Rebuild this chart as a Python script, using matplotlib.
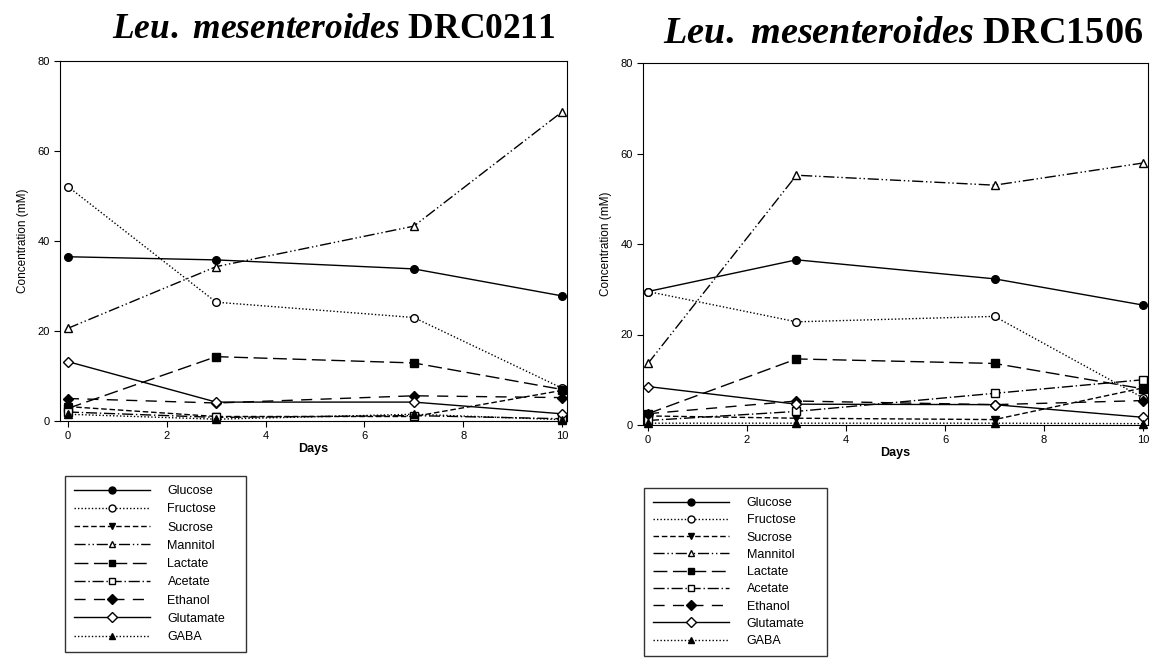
import numpy as np
import matplotlib.pyplot as plt
from matplotlib.lines import Line2D

plt.rcParams['font.family'] = ['Liberation Sans', 'DejaVu Sans']
plt.rcParams['mathtext.fontset'] = 'custom'
plt.rcParams['mathtext.it'] = 'Liberation Serif:italic:bold'
plt.rcParams['mathtext.rm'] = 'Liberation Serif:bold'

days = [0, 3, 7, 10]
names = ['Glucose', 'Fructose', 'Sucrose', 'Mannitol', 'Lactate',
         'Acetate', 'Ethanol', 'Glutamate', 'GABA']

# DRC0211
drc0211 = {
    'Glucose':   [36.5, 35.8, 33.8, 27.8],
    'Fructose':  [52.1, 26.4, 23.0, 7.3],
    'Sucrose':   [3.2, 1.0, 1.0, 6.8],
    'Mannitol':  [20.6, 34.3, 43.3, 68.7],
    'Lactate':   [2.8, 14.3, 12.9, 7.0],
    'Acetate':   [2.0, 0.8, 1.2, 0.5],
    'Ethanol':   [5.0, 4.0, 5.6, 5.2],
    'Glutamate': [13.2, 4.2, 4.2, 1.6],
    'GABA':      [1.5, 0.4, 1.5, 0.3],
}
# DRC1506
drc1506 = {
    'Glucose':   [29.5, 36.5, 32.3, 26.5],
    'Fructose':  [29.5, 22.8, 24.0, 6.0],
    'Sucrose':   [2.0, 1.5, 1.2, 8.2],
    'Mannitol':  [13.6, 55.2, 53.0, 57.9],
    'Lactate':   [2.5, 14.6, 13.6, 8.0],
    'Acetate':   [1.0, 3.0, 7.0, 10.0],
    'Ethanol':   [2.5, 5.3, 4.5, 5.4],
    'Glutamate': [8.5, 4.6, 4.5, 1.7],
    'GABA':      [0.4, 0.4, 0.4, 0.3],
}

styles = {
    'Glucose':   dict(ls='-', marker='o', mfc='black'),
    'Fructose':  dict(ls=(0, (1, 1.5)), marker='o', mfc='white'),
    'Sucrose':   dict(ls=(0, (4, 2)), marker='v', mfc='black'),
    'Mannitol':  dict(ls=(0, (8, 2, 1, 2, 1, 2)), marker='^', mfc='white'),
    'Lactate':   dict(ls=(0, (10, 4)), marker='s', mfc='black'),
    'Acetate':   dict(ls=(0, (8, 2, 1, 2)), marker='s', mfc='white'),
    'Ethanol':   dict(ls=(0, (8, 6)), marker='D', mfc='black'),
    'Glutamate': dict(ls='-', marker='D', mfc='white'),
    'GABA':      dict(ls=(0, (1, 1.5)), marker='^', mfc='black'),
}

W, H = 1159, 665
fig = plt.figure(figsize=(W / 100, H / 100), dpi=100)

panels = [
    # data, strain, axes rect, xmin, title (x, baseline y, size),
    # legend (left, top, right, row spacing)
    (drc0211, 'DRC0211', [60 / W, 1 - 421 / H, 507 / W, 360 / H], -0.16,
     (334, 38, 25.5), (65, 477, 246, 0.5)),
    (drc1506, 'DRC1506', [643 / W, 1 - 425 / H, 505 / W, 362 / H], -0.10,
     (903, 43, 27.5), (644, 489, 827, 0.42)),
]

for data, strain, rect, xmin, tpos, lpos in panels:
    ax = fig.add_axes(rect)
    for n in names:
        st = styles[n]
        ax.plot(days, data[n], color='black', lw=1.0, ls=st['ls'],
                marker=st['marker'], mfc=st['mfc'], mec='black', ms=5.5,
                clip_on=False, zorder=3)
    ax.set_xlim(xmin, 10.1)
    ax.set_ylim(0, 80)
    ax.set_xticks([0, 2, 4, 6, 8, 10])
    ax.set_yticks([0, 20, 40, 60, 80])
    ax.tick_params(direction='out', length=4, labelsize=8, colors='black')
    ax.set_xlabel('Days', fontsize=9, fontweight='bold', labelpad=1)
    ax.set_ylabel('Concentration (mM)', fontsize=8.5, labelpad=6)

    fig.text(tpos[0] / W, 1 - tpos[1] / H,
             r'$\mathit{Leu.\ mesenteroides}$ ' + strain,
             fontsize=tpos[2], family='Liberation Serif', fontweight='bold',
             ha='center', va='baseline')

    handles = []
    for n in names:
        st = styles[n]
        handles.append(Line2D([], [], color='black', lw=1.0, ls=st['ls'],
                              marker=st['marker'], mfc=st['mfc'],
                              mec='black', ms=5))
    x0, y0, x1, sp = lpos
    leg = fig.legend(handles, names, loc='upper left',
                     bbox_to_anchor=(x0 / W, 1 - y0 / H, (x1 - x0) / W, 0.001),
                     mode='expand', borderaxespad=0, fontsize=9,
                     handlelength=6.1, handletextpad=1.4, labelspacing=sp,
                     borderpad=0.7, frameon=True, fancybox=False,
                     edgecolor='black')
    leg.get_frame().set_linewidth(1.0)

plt.savefig('out.png', dpi=100)
